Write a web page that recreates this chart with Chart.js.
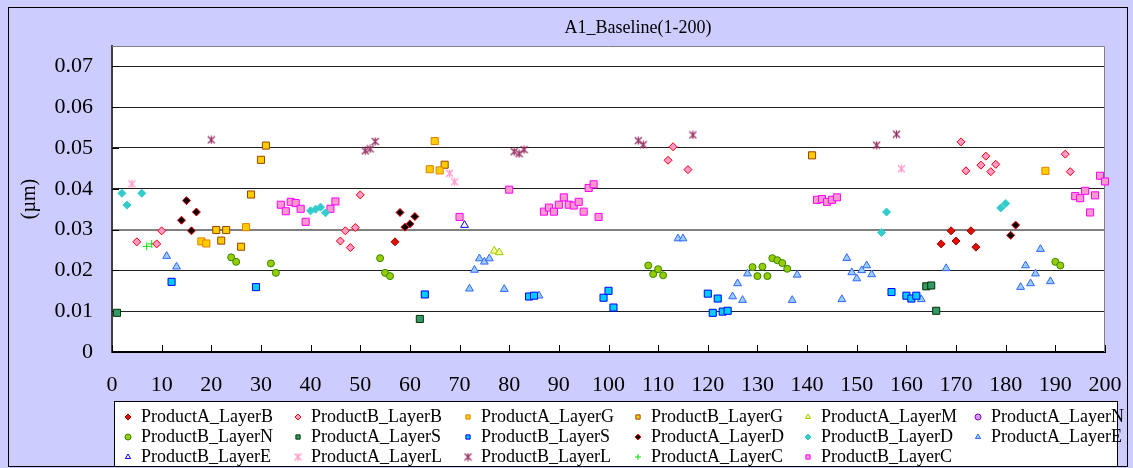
<!DOCTYPE html>
<html>
<head>
<meta charset="utf-8">
<script src="https://cdn.jsdelivr.net/npm/chart.js@4.4.1/dist/chart.umd.min.js"></script>
<style>
  html, body { margin: 0; padding: 0; background: #fff; }
  canvas { display: block; }
</style>
</head>
<body>
<canvas id="chart" width="1133" height="468"></canvas>
<script>
// values, [run index, thickness in um]
const productA_LayerB = [[57,0.0270],[167,0.0265],[169,0.0297],[170,0.0272],[173,0.0297],[174,0.0257]]
const productB_LayerB = [[5,0.0270],[9,0.0265],[10,0.0297],[46,0.0272],[47,0.0297],[48,0.0256],[49,0.0305],[50,0.0385],
  [112,0.0470],[113,0.0503],[116,0.0447],[171,0.0515],[172,0.0444],[175,0.0458],[176,0.0480],[177,0.0442],[178,0.0460],
  [192,0.0485],[193,0.0442]]
const productA_LayerG = [[18,0.0271],[19,0.0266],[27,0.0306],[64,0.0448],[65,0.0517],[66,0.0445],[188,0.0444]]
const productB_LayerG = [[21,0.0299],[22,0.0273],[23,0.0299],[26,0.0258],[28,0.0386],[30,0.0471],[31,0.0506],[67,0.0459],[141,0.0482]]
const productA_LayerM = [[77,0.0248],[78,0.0244]]
const productA_LayerN = []
const productB_LayerN = [[24,0.0232],[25,0.0221],[32,0.0217],[33,0.0194],[54,0.0230],[55,0.0194],[56,0.0186],
  [108,0.0212],[109,0.0191],[110,0.0203],[111,0.0188],[129,0.0208],[130,0.0186],[131,0.0209],[132,0.0186],
  [133,0.0230],[134,0.0225],[135,0.0218],[136,0.0204],[190,0.0221],[191,0.0212]]
const productA_LayerS = [[1,0.0096],[62,0.0081],[164,0.0161],[165,0.0163],[166,0.0101]]
const productB_LayerS = [[12,0.0172],[29,0.0159],[63,0.0141],[84,0.0136],[85,0.0138],[99,0.0133],[100,0.0150],[101,0.0109],
  [120,0.0143],[121,0.0096],[122,0.0131],[123,0.0099],[124,0.0101],[157,0.0147],[160,0.0138],[161,0.0131],[162,0.0138]]
const productA_LayerD = [[14,0.0323],[15,0.0371],[16,0.0297],[17,0.0343],[58,0.0342],[59,0.0306],[60,0.0314],[61,0.0332],
  [181,0.0286],[182,0.0311]]
const productB_LayerD = [[2,0.0389],[3,0.0360],[6,0.0389],[40,0.0346],[41,0.0350],[42,0.0355],[43,0.0341],
  [155,0.0293],[156,0.0343],[179,0.0353],[180,0.0364]]
const productA_LayerE = [[11,0.0235],[13,0.0209],[72,0.0155],[73,0.0201],[74,0.0229],[75,0.0221],[76,0.0229],[79,0.0154],
  [86,0.0138],[114,0.0278],[115,0.0278],[125,0.0136],[126,0.0168],[127,0.0127],[128,0.0192],[137,0.0127],[138,0.0189],
  [147,0.0129],[148,0.0230],[149,0.0195],[150,0.0180],[151,0.0200],[152,0.0212],[153,0.0190],[163,0.0129],[168,0.0205],
  [183,0.0159],[184,0.0212],[185,0.0168],[186,0.0192],[187,0.0252],[189,0.0173]]
const productB_LayerE = [[71,0.0311]]
const productA_LayerL = [[4,0.0412],[68,0.0438],[69,0.0417],[159,0.0449]]
const productB_LayerL = [[20,0.0520],[51,0.0493],[52,0.0498],[53,0.0516],[81,0.0491],[82,0.0486],[83,0.0496],
  [106,0.0518],[107,0.0508],[117,0.0532],[154,0.0507],[158,0.0534]]
const productA_LayerC = [[7,0.0259],[8,0.0265]]
const productB_LayerC = [[34,0.0361],[35,0.0345],[36,0.0368],[37,0.0365],[38,0.0351],[39,0.0319],[44,0.0351],[45,0.0369],
  [70,0.0331],[80,0.0398],[87,0.0344],[88,0.0354],[89,0.0344],[90,0.0361],[91,0.0379],[92,0.0361],[93,0.0359],[94,0.0368],
  [95,0.0344],[96,0.0402],[97,0.0411],[98,0.0331],[142,0.0373],[143,0.0375],[144,0.0368],[145,0.0373],[146,0.0379],
  [194,0.0382],[195,0.0377],[196,0.0395],[197,0.0342],[198,0.0384],[199,0.0432],[200,0.0418]]

const seriesNames = ['ProductA_LayerB','ProductB_LayerB','ProductA_LayerG','ProductB_LayerG','ProductA_LayerM','ProductA_LayerN',
  'ProductB_LayerN','ProductA_LayerS','ProductB_LayerS','ProductA_LayerD','ProductB_LayerD','ProductA_LayerE',
  'ProductB_LayerE','ProductA_LayerL','ProductB_LayerL','ProductA_LayerC','ProductB_LayerC']
const seriesData = [productA_LayerB, productB_LayerB, productA_LayerG, productB_LayerG, productA_LayerM, productA_LayerN,
  productB_LayerN, productA_LayerS, productB_LayerS, productA_LayerD, productB_LayerD, productA_LayerE,
  productB_LayerE, productA_LayerL, productB_LayerL, productA_LayerC, productB_LayerC]

const xTicks = [0,10,20,30,40,50,60,70,80,90,100,110,120,130,140,150,160,170,180,190,200]
const yTicks = [0,0.01,0.02,0.03,0.04,0.05,0.06,0.07]

const serif = 'Liberation Serif'

// excel style asterisk marker (x with a vertical bar)
function makeStar(color) {
  const c = document.createElement('canvas')
  c.width = 9
  c.height = 9
  const g = c.getContext('2d')
  g.strokeStyle = color
  g.lineWidth = 1.3
  g.beginPath()
  g.moveTo(1, 1); g.lineTo(8, 8)
  g.moveTo(8, 1); g.lineTo(1, 8)
  g.moveTo(4.5, 0.5); g.lineTo(4.5, 8.5)
  g.stroke()
  return c
}

const seriesStyles = [
  { shape: 'rectRot', r: 4, fill: '#E01000', border: '#A00000' },
  { shape: 'rectRot', r: 4, fill: '#FF99CC', border: '#FF0000' },
  { shape: 'rect', r: 5, fill: '#FFCC00', border: '#E08000' },
  { shape: 'rect', r: 5, fill: '#FFCC00', border: '#994400' },
  { shape: 'triangle', r: 4.5, fill: '#FFFF99', border: '#99CC00' },
  { shape: 'circle', r: 3.5, fill: '#CC99FF', border: '#9900CC' },
  { shape: 'circle', r: 3.5, fill: '#99CC00', border: '#338800' },
  { shape: 'rect', r: 5, fill: '#339966', border: '#003300' },
  { shape: 'rect', r: 5, fill: '#00CCFF', border: '#0000FF' },
  { shape: 'rectRot', r: 4, fill: '#000000', border: '#FF0000' },
  { shape: 'rectRot', r: 4, fill: '#33CCCC', border: '#33CCCC' },
  { shape: 'triangle', r: 4.5, fill: '#99CCFF', border: '#3366FF' },
  { shape: 'triangle', r: 4.5, fill: '#FFFFFF', border: '#0000FF' },
  { shape: makeStar('#FF99CC'), r: 4, fill: '#FF99CC', border: '#FF99CC' },
  { shape: makeStar('#993366'), r: 4, fill: '#993366', border: '#993366' },
  { shape: 'cross', r: 4, fill: '#00FF00', border: '#00DD00' },
  { shape: 'rect', r: 5, fill: '#FF99CC', border: '#FF00FF' }
]

const framePlugin = {
  id: 'frame',
  beforeDraw(chart) {
    const ctx = chart.ctx, a = chart.chartArea
    ctx.save()
    ctx.fillStyle = '#CCCCFF'
    ctx.fillRect(0, 0, chart.width, chart.height)
    ctx.fillStyle = '#FFFFFF'
    ctx.fillRect(a.left, a.top, a.right - a.left, a.bottom - a.top)
    ctx.strokeStyle = '#000000'
    ctx.lineWidth = 1
    ctx.strokeRect(8.5, 7.5, 1119, 459)
    ctx.restore()
  },
  beforeDatasetsDraw(chart) {
    const ctx = chart.ctx, a = chart.chartArea
    const xs = chart.scales.x, ys = chart.scales.y
    ctx.save()
    ctx.strokeStyle = '#808080'
    ctx.lineWidth = 1
    ctx.beginPath()
    ctx.moveTo(a.left, a.top + 0.5); ctx.lineTo(a.right - 0.5, a.top + 0.5); ctx.lineTo(a.right - 0.5, a.bottom)
    ctx.stroke()
    // inner tick marks
    ctx.strokeStyle = '#000000'
    ctx.beginPath()
    xTicks.forEach(v => {
      const px = Math.round(xs.getPixelForValue(v)) + 0.5
      ctx.moveTo(px, a.bottom); ctx.lineTo(px, a.bottom - 7)
    })
    yTicks.forEach(v => {
      const py = Math.round(ys.getPixelForValue(v)) + 0.5
      ctx.moveTo(a.left, py); ctx.lineTo(a.left + 7, py)
    })
    ctx.stroke()
    ctx.restore()
  },
  afterDraw(chart) {
    const ctx = chart.ctx
    ctx.save()
    ctx.fillStyle = '#000000'
    ctx.font = '18px "' + serif + '"'
    ctx.textAlign = 'center'
    ctx.textBaseline = 'middle'
    ctx.fillText('A1_Baseline(1-200)', 638, 28)

    // legend box, 6 columns
    ctx.fillStyle = '#FFFFFF'
    ctx.fillRect(114.5, 401.5, 1003, 65)
    ctx.strokeStyle = '#000000'
    ctx.lineWidth = 1
    ctx.strokeRect(114.5, 401.5, 1003, 65)
    ctx.textAlign = 'left'
    seriesNames.forEach((name, i) => {
      const col = i % 6, row = Math.floor(i / 6)
      const mx = 128 + col * 170, my = 417 + row * 20
      const st = seriesStyles[i]
      ctx.fillStyle = st.fill
      ctx.strokeStyle = st.border
      ctx.lineWidth = 1
      if (Chart.helpers && Chart.helpers.drawPoint) {
        Chart.helpers.drawPoint(ctx, { pointStyle: st.shape, radius: 3, rotation: 0, borderWidth: 1 }, mx, my)
      }
      ctx.fillStyle = '#000000'
      ctx.fillText(name, mx + 13, my)
    })
    ctx.restore()
  }
}

const ctx = document.getElementById('chart').getContext('2d')
const chart = new Chart(ctx, {
  type: 'scatter',
  data: {
    datasets: seriesNames.map((name, i) => ({
      label: name,
      data: seriesData[i].map(p => ({ x: p[0], y: p[1] })),
      pointStyle: seriesStyles[i].shape,
      pointRadius: seriesStyles[i].r,
      backgroundColor: seriesStyles[i].fill,
      borderColor: seriesStyles[i].border,
      pointBorderWidth: 1,
      clip: false
    }))
  },
  options: {
    responsive: false,
    animation: false,
    events: [],
    layout: { padding: { top: 46, right: 28, bottom: 76, left: 0 } },
    plugins: {
      legend: { display: false },
      title: { display: false },
      tooltip: { enabled: false }
    },
    scales: {
      x: {
        type: 'linear',
        min: 0,
        max: 200,
        afterFit: s => { s.height = 40; s.paddingLeft = 0; s.paddingRight = 0 },
        afterBuildTicks: s => { s.ticks = xTicks.map(v => ({ value: v })) },
        grid: { display: false, drawTicks: false },
        border: { display: true, color: '#000000', width: 2 },
        ticks: {
          padding: 20,
          maxRotation: 0,
          autoSkip: false,
          color: '#000000',
          font: { family: serif, size: 22 }
        }
      },
      y: {
        type: 'linear',
        min: 0,
        max: 0.075,
        afterFit: s => { s.width = 112; s.paddingTop = 0; s.paddingBottom = 0 },
        afterBuildTicks: s => { s.ticks = yTicks.map(v => ({ value: v })) },
        grid: {
          drawTicks: false,
          color: c => c.tick && c.tick.value === 0 ? 'rgba(0,0,0,0)' : (c.tick && Math.abs(c.tick.value - 0.03) < 1e-9 ? '#808080' : '#202020'),
          lineWidth: c => c.tick && Math.abs(c.tick.value - 0.03) < 1e-9 ? 2 : 1
        },
        border: { display: true, color: '#404040', width: 2 },
        title: {
          display: true,
          text: '(µm)',
          color: '#000000',
          font: { family: serif, size: 20 },
          padding: { top: 18, bottom: 0 }
        },
        ticks: {
          padding: 19,
          color: '#000000',
          font: { family: serif, size: 22 },
          callback: v => String(+v.toFixed(2))
        }
      }
    }
  },
  plugins: [framePlugin]
})
</script>
</body>
</html>
